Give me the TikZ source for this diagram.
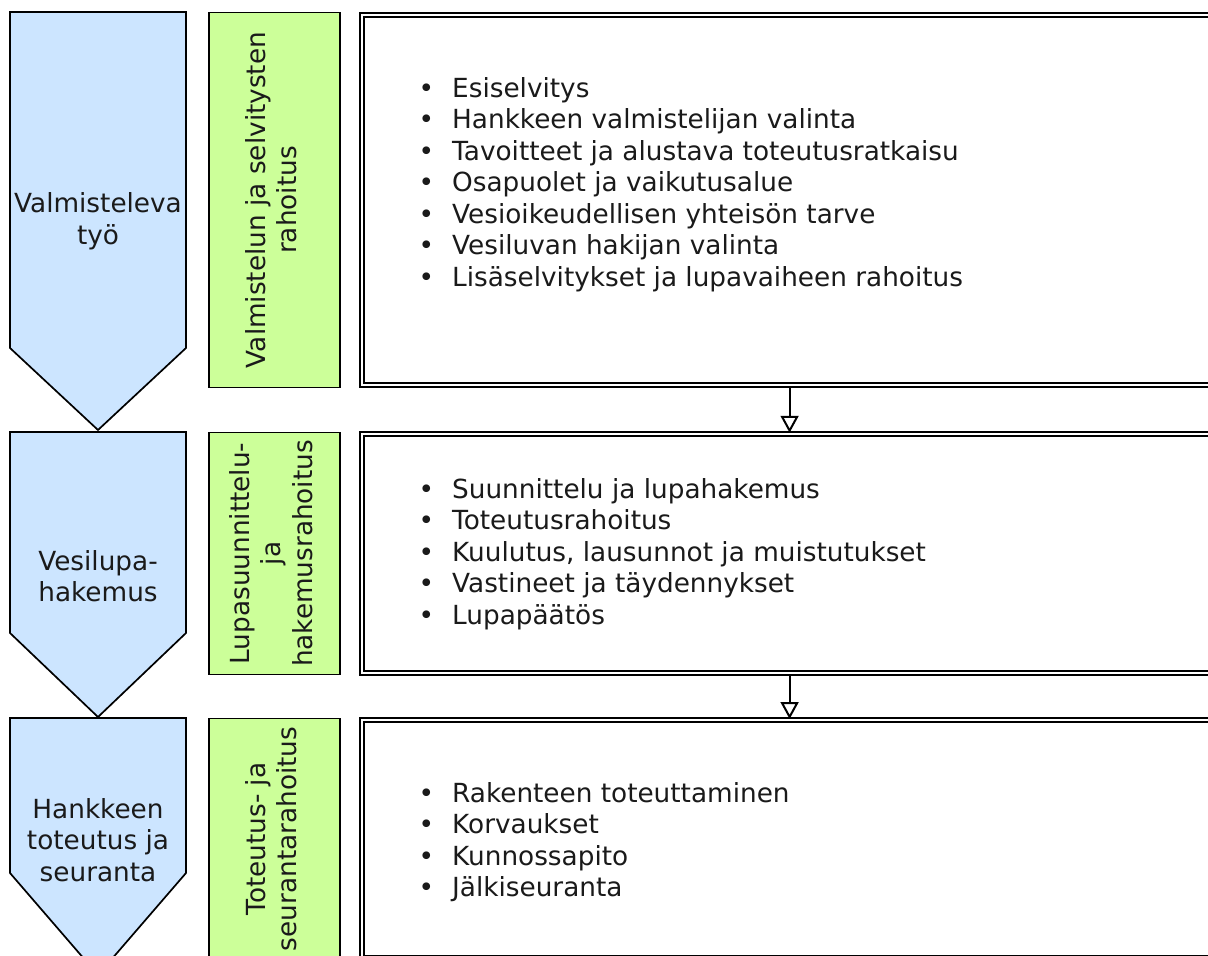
\documentclass[tikz,border=0pt]{standalone}
\usepackage{fontspec}
\setmainfont{DejaVu Sans}
\usepackage{graphicx}
\usepackage{tikz}
\usetikzlibrary{arrows.meta,positioning}

\definecolor{phaseblue}{HTML}{CCE5FF}
\definecolor{fundgreen}{HTML}{CCFF99}
\definecolor{inktext}{HTML}{1A1A1A}
\newcommand{\bul}{\makebox[33.5pt][l]{\textbullet}}

\begin{document}
\begin{tikzpicture}[x=1pt,y=-1pt,>={Triangle[open,length=17pt,width=18pt]},
                    font=\fontsize{26.3pt}{31.5pt}\selectfont,text=inktext]
	\tikzstyle{phase}=[fill=phaseblue,draw=black,line width=1.7pt,line join=miter]
	\tikzstyle{fund}=[rectangle,fill=fundgreen,draw=black,line width=1.7pt,
	                  minimum width=131.5pt,inner sep=0pt]
	\tikzstyle{task}=[rectangle,draw=black,double,line width=2pt,
	                  double distance=2pt,minimum width=855pt]
	\tikzstyle{items}=[anchor=north west,align=left,inner sep=0pt]
	\tikzstyle{flow}=[->,draw=black,line width=2pt]

	\clip (0,0) rectangle (1208,956);
	\fill[white] (0,0) rectangle (1208,956);

	% vaiheet
	\draw[phase] (10,12) -- (186,12) -- (186,348) -- (98,430) -- (10,348) -- cycle;
	\draw[phase] (10,432) -- (186,432) -- (186,633) -- (98,717) -- (10,633) -- cycle;
	\draw[phase] (10,718) -- (186,718) -- (186,873) -- (98,975) -- (10,873) -- cycle;

	\node[align=center] (p1) at (98,221) {Valmisteleva\\työ};
	\node[align=center] (p2) at (98,576) {Vesilupa-\\hakemus};
	\node[align=center] (p3) at (98,840) {Hankkeen\\toteutus ja\\seuranta};

	% rahoitus
	\node[fund,minimum height=375pt] (g1) at (274.5,200)
		{\rotatebox{90}{\begin{tabular}{@{}c@{}}Valmistelun ja selvitysten\\rahoitus\end{tabular}}};
	\node[fund,minimum height=242pt] (g2) at (274.5,553.5)
		{\rotatebox{90}{\begin{tabular}{@{}c@{}}Lupasuunnittelu-\\ja\\hakemusrahoitus\end{tabular}}};
	\node[fund,minimum height=241pt] (g3) at (274.5,839)
		{\rotatebox{90}{\begin{tabular}{@{}c@{}}Toteutus- ja\\seurantarahoitus\end{tabular}}};

	% tehtävät
	\node[task,minimum height=370.5pt,right=20pt of g1] (w1) {};
	\node[task,minimum height=239.5pt,right=20pt of g2] (w2) {};
	\node[task,minimum height=238pt,right=20pt of g3] (w3) {};

	\node[items] (l1) at (418.5,77) {\bul Esiselvitys\\
		\bul Hankkeen valmistelijan valinta\\
		\bul Tavoitteet ja alustava toteutusratkaisu\\
		\bul Osapuolet ja vaikutusalue\\
		\bul Vesioikeudellisen yhteisön tarve\\
		\bul Vesiluvan hakijan valinta\\
		\bul Lisäselvitykset ja lupavaiheen rahoitus};
	\node[items] (l2) at (418.5,478) {\bul Suunnittelu ja lupahakemus\\
		\bul Toteutusrahoitus\\
		\bul Kuulutus, lausunnot ja muistutukset\\
		\bul Vastineet ja täydennykset\\
		\bul Lupapäätös};
	\node[items] (l3) at (418.5,782) {\bul Rakenteen toteuttaminen\\
		\bul Korvaukset\\
		\bul Kunnossapito\\
		\bul Jälkiseuranta};

	\path (w1) edge[flow] (w2)
	      (w2) edge[flow] (w3);
\end{tikzpicture}
\end{document}
